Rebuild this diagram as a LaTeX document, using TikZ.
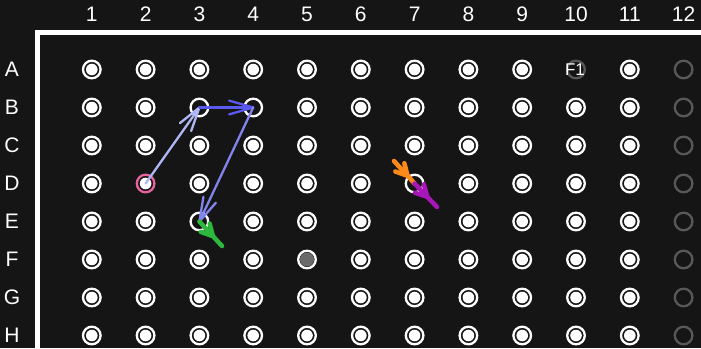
\documentclass[tikz,border=0pt]{standalone}
\usepackage{fontspec}
\setmainfont{Liberation Sans}
\usetikzlibrary{calc}
\definecolor{bg}{HTML}{151515}
\definecolor{ringgray}{HTML}{585858}
\definecolor{fillgray}{HTML}{6A6A6A}
\definecolor{pinkring}{HTML}{E8649F}
\definecolor{lav}{HTML}{B0B6F4}
\definecolor{blueA}{HTML}{5A5AF0}
\definecolor{blueB}{HTML}{8383EE}
\definecolor{orangeM}{HTML}{FF8A1A}
\definecolor{magM}{HTML}{A815B8}
\definecolor{greenM}{HTML}{2DB83D}
\newcommand\thinarrow[3]{%
  \draw[tarr,#1] (#2.center) -- (#3.center);
  \draw[tarr,#1] ($(#3.center)!25pt!16:(#2.center)$) -- (#3.center) -- ($(#3.center)!25pt!-16:(#2.center)$);
}
\newcommand\thickmark[5]{%
  \draw[kmark,#1] (#2) -- (#3);
  \coordinate (#5) at ($(#2)!#4!(#3)$);
  \draw[kmark,#1] ($(#5)!13pt!28:(#2)$) -- (#5) -- ($(#5)!13pt!-28:(#2)$);
}
\begin{document}
\begin{tikzpicture}[x=1pt,y=-1pt,
  lbl/.style={text=white,font=\fontsize{21}{21}\selectfont,inner sep=0pt},
  f1lbl/.style={text=white,font=\fontsize{17}{17}\selectfont,inner sep=0pt},
  well/.style={circle,draw=white,line width=2.3pt,minimum size=17.6pt,inner sep=0pt,
    path picture={\fill[white] (path picture bounding box.center) circle (5.8pt);}},
  emptywell/.style={path picture={}},
  gwell/.style={draw=ringgray,path picture={}},
  w-A10/.style={gwell},
  w-B3/.style={emptywell},
  w-B4/.style={emptywell},
  w-E3/.style={emptywell},
  w-D7/.style={emptywell},
  w-D2/.style={draw=pinkring},
  w-F5/.style={path picture={\fill[fillgray] (path picture bounding box.center) circle (7pt);}},
  tarr/.style={line width=2.3pt,line cap=round,line join=round},
  kmark/.style={line width=4.5pt,line cap=round,line join=round}]
\useasboundingbox (0,0) rectangle (701,348);
\fill[bg] (0,0) rectangle (701,348);
\draw[white,line width=5pt] (37.5,348) -- (37.5,32.5) -- (701,32.5);
\foreach \c in {1,...,12} {
  \pgfmathsetmacro\x{91.8+(\c-1)*53.8}
  \node[lbl] (col\c) at (\x,14) {\c};
}
\foreach \r [count=\i from 0] in {A,B,C,D,E,F,G,H} {
  \pgfmathsetmacro\y{69.5+\i*38}
  \node[lbl] (row\r) at (12,\y) {\r};
  \foreach \c in {1,...,12} {
    \pgfmathsetmacro\x{91.8+(\c-1)*53.8}
    \ifnum\c=12 \def\extra{gwell}\else\def\extra{}\fi
    \node[well,\extra,w-\r\c/.try] (w\r\c) at (\x,\y) {};
  }
}
\node[f1lbl] (f1) at ($(wA10.center)+(-1,0.5)$) {F1};
\thinarrow{lav}{wD2}{wB3}
\thinarrow{blueA}{wB3}{wB4}
\thinarrow{blueB}{wB4}{wE3}
\coordinate (pO) at (394,161);
\coordinate (qM) at (437,207);
\coordinate (gG) at (222,246);
\thickmark{orangeM}{pO}{wD7.center}{0.66}{jO}
\thickmark{magM}{wD7.center}{qM}{0.57}{jM}
\thickmark{greenM}{wE3.center}{gG}{0.6}{jG}
\end{tikzpicture}
\end{document}
